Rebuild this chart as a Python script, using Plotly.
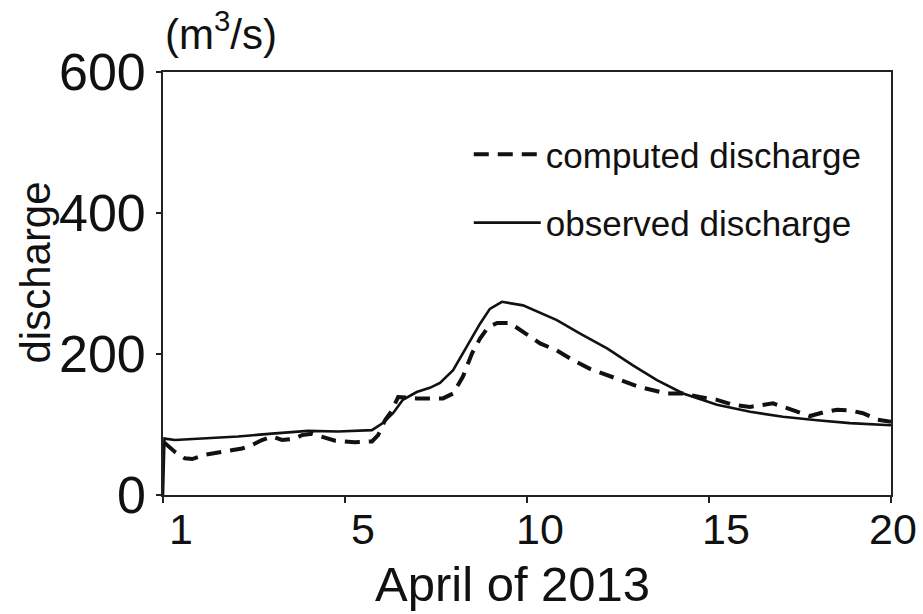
import plotly.graph_objects as go

# ---- data ----
days_obs = [0, 0.04, 0.33, 1.15, 2.06, 2.99, 3.98, 4.81, 5.74, 6.04, 6.32, 6.59, 6.97,
            7.33, 7.61, 7.97, 8.35, 8.71, 8.98, 9.31, 9.89, 10.36, 10.82, 11.46, 12.2,
            12.91, 13.57, 14.29, 15.22, 16.13, 17.03, 17.97, 18.87, 20]
observed = [0, 80, 78, 80, 83, 87, 91, 90, 92, 102, 116, 135, 146,
            152, 159, 177, 210, 243, 264, 274, 269, 258, 248, 229, 208,
            184, 163, 144, 128, 118, 111, 106, 102, 99]

days_cmp = [0.04, 0.33, 0.6, 0.8, 1.15, 1.62, 2.17, 2.45, 2.72, 2.99, 3.27, 3.63, 3.82,
            4.09, 4.37, 4.73, 5.27, 5.74, 5.91, 6.1, 6.29, 6.46, 6.97, 7.33, 7.69, 7.97,
            8.24, 8.49, 8.71, 8.93, 9.18, 9.53, 9.81, 10.36, 10.82, 11.27, 11.73, 12.47,
            13.1, 13.85, 14.29, 14.75, 15.22, 15.66, 16.13, 16.76, 17.03, 17.5, 17.77,
            18.13, 18.52, 18.87, 19.23, 19.62, 20]
computed = [74, 61, 52, 51, 57, 61, 66, 71, 78, 83, 78, 80, 85,
            87, 83, 77, 75, 76, 85, 106, 120, 139, 137, 137, 137, 144,
            168, 201, 222, 238, 244, 244, 234, 215, 205, 191, 179, 165,
            153, 144, 144, 139, 135, 128, 125, 130, 125, 116, 112,
            117, 121, 120, 116, 107, 104]

x_tickvals = [0, 5, 10, 15, 20]
x_ticktext = ["1", "5", "10", "15", "20"]
x_label_offsets = [0.5, 0.5, 0.36, 0.47, 0.05]   # label placement (style)
y_tickvals = [0, 200, 400, 600]

X_RANGE = [0, 20]
FONT = "Liberation Sans, Arial, sans-serif"

fig = go.Figure()
fig.add_trace(go.Scatter(x=days_cmp, y=computed, mode="lines",
                         name="computed discharge", legendgroup="c",
                         line=dict(color="#111", width=4, dash="15px,9px")))
fig.add_trace(go.Scatter(x=days_obs, y=observed, mode="lines",
                         name="observed discharge", legendgroup="o",
                         line=dict(color="#111", width=2.6)))

annotations = []
span = X_RANGE[1] - X_RANGE[0]
for v, t, off in zip(x_tickvals, x_ticktext, x_label_offsets):
    annotations.append(dict(x=(v + off - X_RANGE[0]) / span, y=0, xref="paper", yref="paper",
                            text=t, showarrow=False, yanchor="top", xanchor="center",
                            yshift=-8, font=dict(family=FONT, size=43, color="#111")))
annotations.append(dict(x=0.4794, y=0, xref="paper", yref="paper", text="April of 2013",
                        showarrow=False, yanchor="top", xanchor="center", yshift=-60,
                        font=dict(family=FONT, size=49, color="#111")))
annotations.append(dict(x=-0.175, y=0.525, xref="paper", yref="paper", text="discharge",
                        showarrow=False, textangle=-90, xanchor="center", yanchor="middle",
                        font=dict(family=FONT, size=42, color="#111")))
annotations.append(dict(x=0, y=1, xref="paper", yref="paper", text="(m<sup>3</sup>/s)",
                        showarrow=False, xanchor="left", yanchor="bottom", yshift=12,
                        font=dict(family=FONT, size=42, color="#111")))

fig.update_layout(
    width=923, height=614,
    margin=dict(l=163, r=32, t=72, b=119),
    paper_bgcolor="white", plot_bgcolor="white",
    font=dict(family=FONT, color="#111"),
    showlegend=True,
    legend=dict(x=0.42, y=0.875, xanchor="left", yanchor="top",
                font=dict(family=FONT, size=35, color="#111"),
                bgcolor="rgba(0,0,0,0)", tracegroupgap=20, itemwidth=67,
                traceorder="grouped"),
    annotations=annotations,
    xaxis=dict(range=X_RANGE, tickvals=x_tickvals, showticklabels=False,
               ticks="outside", ticklen=6, tickwidth=1.5, tickcolor="#222",
               showline=True, linecolor="#222", linewidth=1.6, mirror=True,
               showgrid=False, zeroline=False),
    yaxis=dict(range=[0, 600], tickvals=y_tickvals, ticks="outside", ticklen=5,
               tickwidth=1.5, tickcolor="#222",
               showline=True, linecolor="#222", linewidth=1.6, mirror=True,
               showgrid=False, zeroline=False,
               tickfont=dict(family=FONT, size=52, color="#111")),
)

fig.write_html("out.html")
